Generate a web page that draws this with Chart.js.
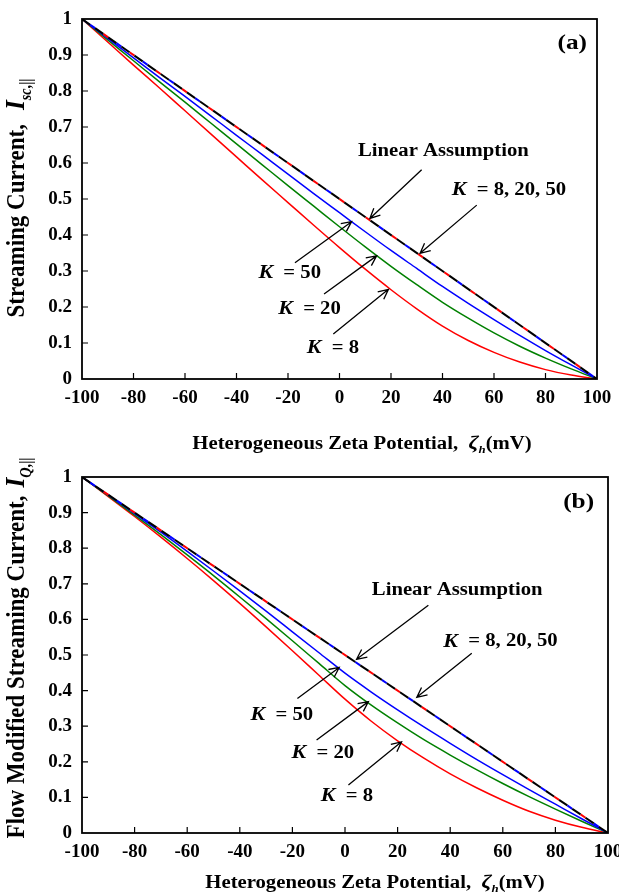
<!DOCTYPE html>
<html>
<head>
<meta charset="utf-8">
<script src="https://cdn.jsdelivr.net/npm/chart.js@4.4.1/dist/chart.umd.min.js"></script>
<style>
  body { margin: 0; background: #fff; }
  #wrap { position: relative; width: 619px; height: 893px; overflow: hidden; font-family: 'Liberation Serif', 'Times New Roman', serif; font-weight: bold; }
  canvas { position: absolute; left: 0; }
  .ttl { position: absolute; white-space: nowrap; color: #000; line-height: 1; }
  .xt { font-size: 18px; transform: translate(-50%, -50%) scaleX(1.15); }
  .yt { font-size: 23px; transform: translate(-50%, -50%) rotate(-90deg) scaleY(1.12); }
  .ttl i.big { font-size: 1.1em; }
  .ttl sub { font-size: 0.62em; }
  .gap { display: inline-block; width: 14px; }
</style>
</head>
<body>
<div id="wrap">
  <canvas id="chartA" width="619" height="455" style="top:0"></canvas>
  <canvas id="chartB" width="619" height="438" style="top:455px"></canvas>
  <div class="ttl yt" style="left:17px; top:198px">Streaming Current,<span class="gap"></span><i class="big">I</i><sub><i>sc</i>,||</sub></div>
  <div class="ttl xt" style="left:362px; top:444px">Heterogeneous Zeta Potential,&nbsp; <i class="big">ζ</i><sub><i>h</i></sub>(mV)</div>
  <div class="ttl yt" style="left:17px; top:648px">Flow Modified Streaming Current,<span class="gap" style="width:8px"></span><i class="big">I</i><sub><i>Q</i>,||</sub></div>
  <div class="ttl xt" style="left:375px; top:883px">Heterogeneous Zeta Potential,&nbsp; <i class="big">ζ</i><sub><i>h</i></sub>(mV)</div>
</div>
<script>
// valores
const xValues = [-100, -90, -80, -70, -60, -50, -40, -30, -20, -10, 0, 10, 20, 30, 40, 50, 60, 70, 80, 90, 100];

// (a) streaming current
const redA   = [1, .936, .872, .809, .745, .681, .617, .553, .490, .427, .365, .305, .248, .195, .147, .107, .074, .047, .026, .011, 0];
const greenA = [1, .942, .884, .826, .769, .711, .653, .595, .537, .480, .423, .367, .313, .262, .213, .169, .128, .091, .058, .028, 0];
const blueA  = [1, .946, .892, .838, .785, .731, .677, .623, .569, .515, .462, .409, .357, .307, .257, .210, .165, .121, .079, .039, 0];

// (b) flow modified streaming current
const redB   = [1, .945, .889, .831, .771, .709, .645, .579, .512, .444, .376, .314, .259, .210, .166, .127, .092, .061, .036, .016, 0];
const greenB = [1, .947, .893, .838, .781, .723, .663, .602, .540, .477, .414, .359, .309, .262, .219, .178, .139, .102, .067, .033, 0];
const blueB  = [1, .949, .897, .845, .791, .736, .680, .623, .565, .507, .449, .396, .346, .298, .252, .207, .164, .122, .081, .040, 0];

// supuesto lineal
const linearX = [-100, 100];
const linearY = [1, 0];

const xTickLabels = ['-100', '-80', '-60', '-40', '-20', '0', '20', '40', '60', '80', '100'];
const yTickLabels = ['0', '0.1', '0.2', '0.3', '0.4', '0.5', '0.6', '0.7', '0.8', '0.9', '1'];

const FONT = "'Liberation Serif', 'Times New Roman', serif";
const STRETCH = 1.15;

function pts(xs, ys) {
    return xs.map((x, i) => ({ x: x, y: ys[i] }));
}

// marco y marcas hacia adentro, flechas y textos
const decorPlugin = {
    id: 'decor',
    afterDatasetsDraw(chart, args, opts) {
        const c = chart.ctx;
        const a = chart.chartArea;
        const sx = chart.scales.x, sy = chart.scales.y;
        c.save();
        c.strokeStyle = '#000';
        c.lineWidth = 1.8;
        c.setLineDash([]);
        c.strokeRect(a.left, a.top, a.right - a.left, a.bottom - a.top);
        c.lineWidth = 1.2;
        c.beginPath();
        for (let v = -80; v < 100; v += 20) {
            const px = sx.getPixelForValue(v);
            c.moveTo(px, a.bottom);
            c.lineTo(px, a.bottom - 6);
        }
        for (let i = 1; i < 10; i++) {
            const py = sy.getPixelForValue(i / 10);
            c.moveTo(a.left, py);
            c.lineTo(a.left + 6, py);
        }
        c.stroke();

        // flechas
        c.lineWidth = 1.3;
        opts.arrows.forEach(ar => {
            const x0 = sx.getPixelForValue(ar[0]), y0 = sy.getPixelForValue(ar[1]);
            const x1 = sx.getPixelForValue(ar[2]), y1 = sy.getPixelForValue(ar[3]);
            const ang = Math.atan2(y1 - y0, x1 - x0);
            c.beginPath();
            c.moveTo(x0, y0);
            c.lineTo(x1, y1);
            c.moveTo(x1 - 11 * Math.cos(ang - 0.45), y1 - 11 * Math.sin(ang - 0.45));
            c.lineTo(x1, y1);
            c.lineTo(x1 - 11 * Math.cos(ang + 0.45), y1 - 11 * Math.sin(ang + 0.45));
            c.stroke();
        });

        // textos (algo estirados en horizontal como en la figura)
        c.fillStyle = '#000';
        c.textBaseline = 'middle';
        c.textAlign = 'left';
        opts.labels.forEach(lb => {
            let txt = lb[0];
            c.save();
            c.translate(sx.getPixelForValue(lb[1]), sy.getPixelForValue(lb[2]));
            c.scale(STRETCH, 1);
            let px = 0;
            if (txt.startsWith('K')) {
                c.font = 'italic bold 19px ' + FONT;
                c.fillText('K', 0, 0);
                px = c.measureText('K').width;
                txt = txt.slice(1);
            }
            c.font = 'bold 18px ' + FONT;
            c.fillText(txt, px, 0);
            c.restore();
        });
        c.font = 'bold 22px ' + FONT;
        const w = c.measureText(opts.panel[0]).width * STRETCH;
        c.translate(sx.getPixelForValue(opts.panel[1]) - w, sy.getPixelForValue(opts.panel[2]));
        c.scale(STRETCH, 1);
        c.fillText(opts.panel[0], 0, 0);
        c.restore();
    }
};

function makeChart(id, red, green, blue, axisH, pad, decor) {
    const ctx = document.getElementById(id).getContext('2d');
    return new Chart(ctx, {
        type: 'line',
        data: {
            datasets: [
                { data: pts(linearX, linearY), borderColor: '#000', borderWidth: 2, borderDash: [10, 6] },
                { data: pts(linearX, linearY), borderColor: '#ff0000', borderWidth: 2, borderDash: [6, 26], borderDashOffset: 6 },
                { data: pts(linearX, linearY), borderColor: '#0000ff', borderWidth: 2, borderDash: [6, 26], borderDashOffset: -10 },
                { data: pts(xValues, blue), borderColor: '#0000ff', borderWidth: 1.5 },
                { data: pts(xValues, green), borderColor: '#008000', borderWidth: 1.5 },
                { data: pts(xValues, red), borderColor: '#ff0000', borderWidth: 1.5 }
            ]
        },
        options: {
            responsive: false,
            animation: false,
            layout: { padding: pad, autoPadding: false },
            elements: {
                point: { radius: 0 },
                line: { cubicInterpolationMode: 'monotone', fill: false }
            },
            plugins: {
                legend: { display: false },
                tooltip: { enabled: false },
                decor: decor
            },
            scales: {
                x: {
                    type: 'linear',
                    min: -100,
                    max: 100,
                    afterFit: s => { s.height = axisH; s.paddingLeft = 0; s.paddingRight = 0; },
                    afterBuildTicks: s => { s.ticks = xTickLabels.map(t => ({ value: Number(t) })); },
                    ticks: {
                        callback: (v) => xTickLabels[Math.round((v + 100) / 20)],
                        color: '#000',
                        font: { family: FONT, size: 19, weight: 'bold' },
                        padding: 8,
                        maxRotation: 0,
                        autoSkip: false
                    },
                    grid: { display: false, drawTicks: false },
                    border: { display: false }
                },
                y: {
                    min: 0,
                    max: 1,
                    afterFit: s => { s.width = 82; s.paddingTop = 0; s.paddingBottom = 0; },
                    afterBuildTicks: s => { s.ticks = yTickLabels.map(t => ({ value: Number(t) })); },
                    ticks: {
                        callback: (v) => yTickLabels[Math.round(v * 10)],
                        color: '#000',
                        font: { family: FONT, size: 19, weight: 'bold' },
                        padding: 10,
                        autoSkip: false
                    },
                    grid: { display: false, drawTicks: false },
                    border: { display: false }
                }
            }
        },
        plugins: [decorPlugin]
    });
}

makeChart('chartA', redA, greenA, blueA, 76, { top: 19, right: 22, left: 0, bottom: 0 }, {
    arrows: [
        [31.9, .581, 11.8, .446],
        [53.3, .483, 31.3, .349],
        [-17.3, .323, 4.7, .437],
        [-6.0, .236, 14.4, .342],
        [-2.4, .125, 19.0, .249]
    ],
    labels: [
        ['Linear Assumption', 7.2, .631],
        ['K  = 8, 20, 50', 43.6, .525],
        ['K  = 50', -31.5, .294],
        ['K  = 20', -23.8, .194],
        ['K  = 8', -12.7, .085]
    ],
    panel: ['(a)', 96.1, .933]
});

makeChart('chartB', redB, greenB, blueB, 60, { top: 22, right: 11, left: 0, bottom: 0 }, {
    arrows: [
        [31.7, .640, 4.4, .488],
        [48.2, .505, 27.3, .381],
        [-18.1, .378, -2.2, .465],
        [-10.8, .261, 8.9, .369],
        [1.3, .135, 21.5, .256]
    ],
    labels: [
        ['Linear Assumption', 10.2, .681],
        ['K  = 8, 20, 50', 37.4, .537],
        ['K  = 50', -35.9, .331],
        ['K  = 20', -20.3, .224],
        ['K  = 8', -9.2, .104]
    ],
    panel: ['(b)', 94.7, .93]
});
</script>
</body>
</html>
